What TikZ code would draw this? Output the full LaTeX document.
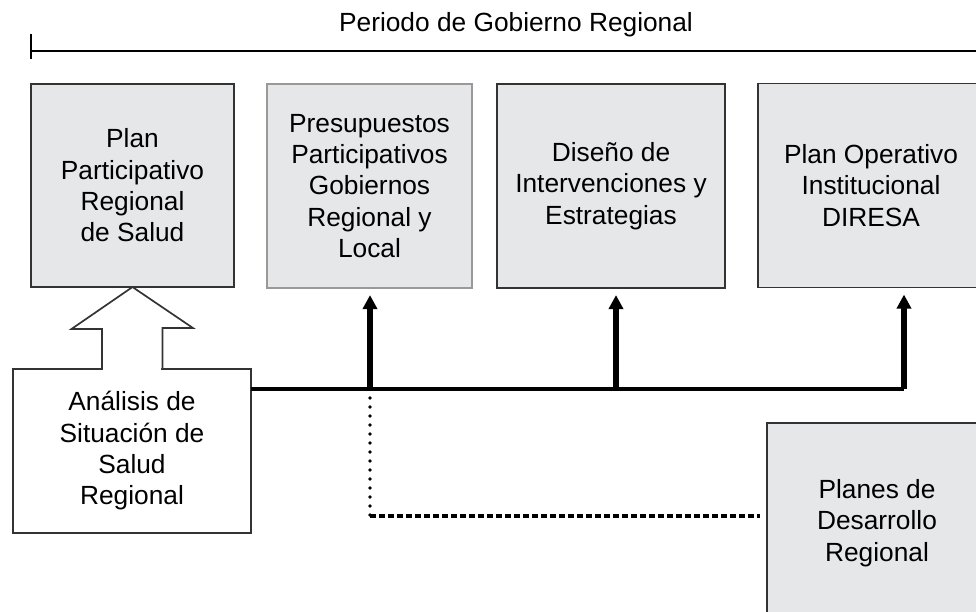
\documentclass[tikz,border=0pt]{standalone}
\usepackage{fontspec}
\setmainfont{Liberation Sans}
\usetikzlibrary{arrows.meta,calc}

\definecolor{boxgray}{HTML}{E6E7E8}
\definecolor{boxline}{HTML}{333333}

\tikzset{
  txt/.style={font=\fontsize{18.7}{22.3}\selectfont, align=center},
  box/.style={txt, draw=boxline, line width=1.2pt, fill=boxgray, inner sep=0pt, outer sep=0pt},
  plainbox/.style={box, fill=white},
  bus/.style={line width=3.4pt},
  up/.style={line width=3.6pt, -{Triangle[length=10pt,width=10pt]}, shorten >=5pt},
  hollow/.style={draw=boxline, line width=1.2pt, fill=white, line join=miter},
  dots/.style={line width=2.8pt, line cap=round, dash pattern=on 0pt off 6.4pt},
  dashes/.style={line width=2.6pt, dash pattern=on 4.2pt off 2.2pt},
}

\begin{document}
\begin{tikzpicture}[x=0.025cm, y=-0.025cm]
    \clip (0,0) rectangle (976,612);

    % periodo
    \node[txt] (title) at (516,25) {Periodo de Gobierno Regional};
    \coordinate (t0) at (31,51);
    \coordinate (t1) at (976,51);
    \draw[line width=1.6pt] (t0) -- (t1);
    \draw[line width=1.6pt] ($(t0)+(0,-17)$) -- ($(t0)+(0,8)$);

    % cajas de arriba
    \node[box, minimum width=5.075cm, minimum height=5.075cm] (plan) at (132.5,185.5)
        {Plan\\Participativo\\Regional\\de Salud};
    \node[box, draw=gray!80, minimum width=5.125cm, minimum height=5.1cm] (pres) at (369.5,186)
        {Presupuestos\\Participativos\\Gobiernos\\Regional y\\Local};
    \node[box, minimum width=5.7cm, minimum height=5.1cm] (diseno) at (611,186)
        {Diseño de\\Intervenciones y\\Estrategias};
    \node[box, minimum width=5.65cm, minimum height=5.1cm] (poi) at (871,185.5)
        {Plan Operativo\\Institucional\\DIRESA};

    % cajas de abajo
    \node[plainbox, minimum width=5.95cm, minimum height=4.1cm] (asis) at (132,451)
        {Análisis de\\Situación de\\Salud\\Regional};
    \node[box, minimum width=5.5cm, minimum height=5cm] (pdr) at (877,523)
        {Planes de\\Desarrollo\\Regional};

    % flecha hueca
    \fill[white] ($(asis.north)+(-29,-1)$) rectangle ($(asis.north)+(29,2)$);
    \draw[hollow] ($(asis.north)+(-30,0)$) -- ++(0,-40) -- ++(-30.5,0) -- (plan.south)
        -- ++(60.5,41) -- ++(-30.5,0) -- ++(0,40);

    % linea de enlace
    \coordinate (j1) at (370,389);
    \coordinate (j2) at (616,389);
    \coordinate (j3) at (904,389);
    \draw[bus] (asis.east |- j1) -- (j3);
    \draw[up] (j1) -- (j1 |- pres.south);
    \draw[up] (j2) -- (j2 |- diseno.south);
    \draw[up] (j3) -- (j3 |- poi.south);

    % planes de desarrollo
    \coordinate (k) at (370,516);
    \draw[dots] ($(j1)+(0,9)$) -- (k);
    \draw[dashes, shorten >=5pt] (k) -- (pdr.west |- k);
\end{tikzpicture}
\end{document}
